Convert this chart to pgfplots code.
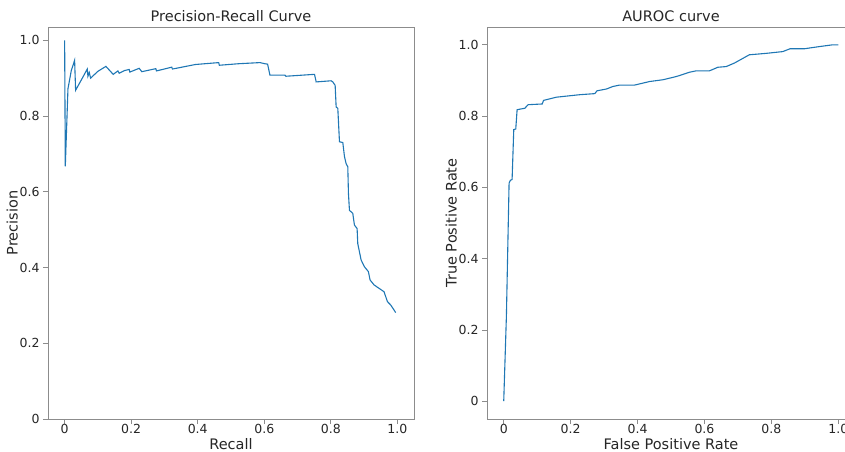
\documentclass[border=0pt]{standalone}
\usepackage{fontspec}
\setmainfont{DejaVu Sans}
\usepackage{pgfplots}
\pgfplotsset{compat=1.18}
\definecolor{mplblue}{HTML}{1F77B4}
\definecolor{spine}{HTML}{8C8C8C}
\definecolor{txt}{HTML}{262626}

\pgfplotsset{
  curvestyle/.style={
    scale only axis,
    height=392pt,
    axis line style={spine, line width=0.9pt},
    tick style={spine, line width=0.8pt},
    major tick length=5pt,
    tick align=outside,
    tick pos=left,
    ticklabel style={font=\fontsize{12.5}{14}\selectfont, text=txt},
    xticklabel style={yshift=3.5pt},
    label style={font=\fontsize{14.5}{17}\selectfont, text=txt},
    xlabel style={at={(axis description cs:0.5,0)}, anchor=base, yshift=-30pt},
    ylabel shift=-5pt,
    title style={font=\fontsize{14.5}{17}\selectfont, text=txt, yshift=-4pt},
    /pgf/number format/assume math mode=true,
    xmin=-0.05, xmax=1.05,
    xtick={0,0.2,0.4,0.6,0.8,1.0},
    xticklabels={0,0.2,0.4,0.6,0.8,1.0},
    ytick={0,0.2,0.4,0.6,0.8,1.0},
    yticklabels={0,0.2,0.4,0.6,0.8,1.0},
    every axis plot/.append style={mplblue, line width=1.1pt, no markers},
    every axis plot post/.append style={mplblue, line width=1.1pt},
  }
}

\begin{document}
\begin{tikzpicture}
% precision-recall
\begin{axis}[curvestyle,
    at={(48pt,32pt)}, anchor=south west,
    width=366pt,
    ymin=0, ymax=1.035,
    title={Precision-Recall Curve},
    xlabel={Recall}, ylabel={Precision}]
\addplot coordinates {
 (0,1.0) (0.002,0.667) (0.010,0.872) (0.020,0.920) (0.030,0.947)
 (0.033,0.868) (0.050,0.895) (0.068,0.924) (0.070,0.905) (0.074,0.915)
 (0.078,0.900) (0.100,0.918) (0.124,0.931) (0.146,0.910) (0.160,0.919)
 (0.164,0.913) (0.180,0.920) (0.194,0.923) (0.196,0.916) (0.224,0.926)
 (0.232,0.917) (0.274,0.925) (0.276,0.919) (0.322,0.929) (0.324,0.924)
 (0.393,0.936) (0.463,0.941) (0.465,0.934) (0.522,0.938) (0.587,0.941)
 (0.602,0.938) (0.610,0.937) (0.617,0.908) (0.662,0.908) (0.665,0.905)
 (0.751,0.910) (0.756,0.890) (0.801,0.893) (0.806,0.890) (0.813,0.881)
 (0.816,0.824) (0.821,0.820) (0.826,0.732) (0.836,0.730) (0.841,0.693)
 (0.846,0.674) (0.851,0.666) (0.853,0.595) (0.856,0.551) (0.866,0.543)
 (0.871,0.512) (0.879,0.503) (0.881,0.463) (0.891,0.420) (0.901,0.402)
 (0.913,0.389) (0.918,0.367) (0.930,0.354) (0.945,0.345) (0.960,0.336)
 (0.970,0.310) (0.980,0.301) (0.995,0.281)
};
\end{axis}
% roc
\begin{axis}[curvestyle,
    at={(487pt,32pt)}, anchor=south west,
    width=368pt,
    ymin=-0.05, ymax=1.05,
    title={AUROC curve},
    xlabel={False Positive Rate}, ylabel={True Positive Rate}]
\addplot coordinates {
 (0,0) (0.008,0.239) (0.013,0.472) (0.016,0.612) (0.020,0.620)
 (0.025,0.622) (0.028,0.706) (0.030,0.762) (0.036,0.764) (0.040,0.818)
 (0.063,0.822) (0.073,0.832) (0.115,0.834) (0.119,0.844) (0.157,0.853)
 (0.227,0.860) (0.272,0.863) (0.279,0.871) (0.307,0.876) (0.326,0.883)
 (0.346,0.887) (0.391,0.887) (0.436,0.897) (0.476,0.902) (0.516,0.911)
 (0.555,0.923) (0.575,0.927) (0.615,0.927) (0.640,0.937) (0.665,0.939)
 (0.690,0.949) (0.734,0.972) (0.784,0.976) (0.834,0.981) (0.856,0.989)
 (0.899,0.989) (0.943,0.995) (0.983,1.0) (1.0,1.0)
};
\end{axis}
\pgfresetboundingbox
\useasboundingbox (0,0) rectangle (845pt,451pt);
\end{tikzpicture}
\end{document}
